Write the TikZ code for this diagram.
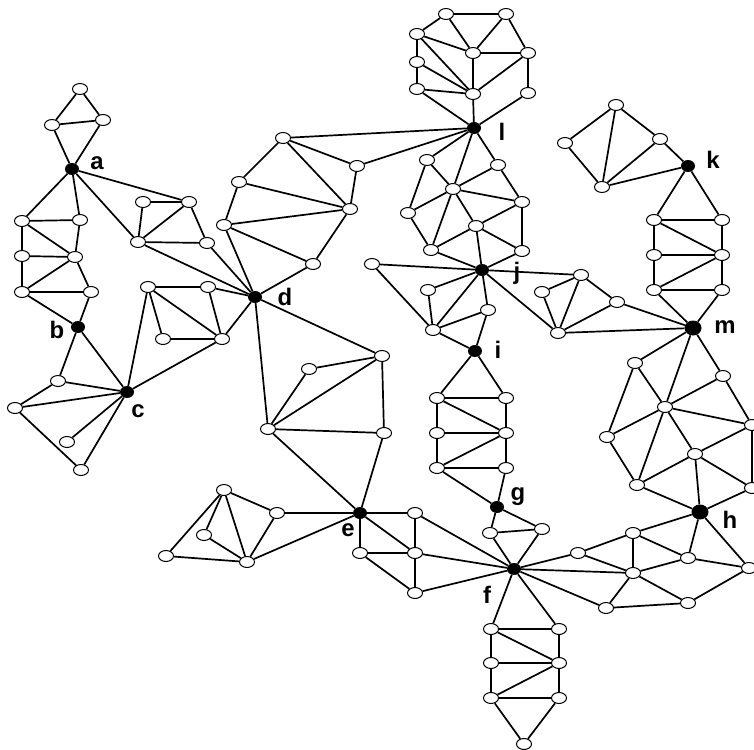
\documentclass[tikz,border=0pt]{standalone}
\usepackage{fontspec}
\setmainfont{Liberation Sans}
\usetikzlibrary{shapes.geometric}
\begin{document}
\begin{tikzpicture}[x=1bp,y=-1bp,
  wn/.style={ellipse,draw,fill=white,line width=1bp,minimum width=15bp,minimum height=11bp,inner sep=0pt},
  bn/.style={ellipse,fill=black,minimum width=14bp,minimum height=12bp,inner sep=0pt},
  bigbn/.style={bn,minimum width=17bp,minimum height=15bp},
  lbl/.style={font=\fontsize{24}{24}\selectfont\bfseries,inner sep=0pt},
  edge/.style={line width=1.7bp}]
\useasboundingbox (0,0) rectangle (754,750);
% black nodes
\foreach \n/\x/\y in {a/72/169,b/78/327,c/127/392,d/255/297,e/360/513,f/514/569,g/497/507,i/475/351,j/482/270,k/688/166,l/474/128}
  \node[bn] (\n) at (\x,\y) {};
\node[bigbn] (m) at (693,328) {};
\node[bigbn] (h) at (700,512) {};
% white nodes
\foreach \n/\x/\y in {T1/80/89,T2/52/125,T3/103/120,
 L1/22/221,L2/80/220,L3/22/256,L4/75/257,L5/22/292,L6/91/292,
 A1/143/202,A2/189/202,A3/138/242,A4/207/243,
 B1/58/381,B2/15/408,B3/67/442,B4/81/470,
 P1/148/287,P2/208/287,P3/163/339,P4/222/339,
 dA/283/138,dB/357/166,dC/239/182,dD/350/209,dE/224/225,dF/313/264,
 D1/382/356,D2/309/369,D3/268/429,D4/384/433,
 H1/224/490,H2/277/513,H3/204/535,H4/166/556,H5/247/562,
 E1/415/513,E2/415/553,E3/360/553,E4/415/593,
 N1/446/14,N2/506/14,N3/417/34,N4/473/53,N5/528/53,N6/417/62,N7/417/89,N8/473/94,N9/528/93,
 Q1/427/160,Q2/498/165,Q3/453/189,Q4/522/202,Q5/408/213,Q6/476/226,Q7/431/250,Q8/522/251,
 R1/372/264,S1/428/290,S2/488/310,S3/433/330,
 U1/542/292,U2/581/275,U3/558/333,U4/617/302,
 V1/616/105,V2/565/143,V3/660/139,V4/602/187,
 W1/654/220,W2/722/220,W3/654/255,W4/722/255,W5/654/290,W6/722/290,
 X1/635/363,X2/723/376,X3/665/407,X4/607/437,X5/752/425,X6/695/454,X7/637/485,X8/752/488,
 I1/437/398,I2/506/398,I3/437/433,I4/506/433,I5/437/468,I6/506/468,
 G1/490/533,G2/542/529,
 Z2/578/553,Z3/633/533,Z4/688/558,Z5/749/568,Z6/633/573,Z7/606/608,Z8/688/603,
 F1/491/629,F2/559/629,F3/491/663,F4/559/663,F5/491/698,F6/559/698,F7/524/744}
  \node[wn] (\n) at (\x,\y) {};
% edges
\foreach \u/\v in {T1/T2,T1/T3,T2/T3,T2/a,T3/a,
 a/L1,a/L2,a/A2,a/A3,
 L1/L2,L1/L3,L1/L4,L2/L4,L3/L4,L3/L5,L4/L5,L4/L6,L5/L6,L5/b,L6/b,
 A1/A2,A1/A3,A2/A3,A2/A4,A3/A4,A3/d,A4/d,
 b/B1,b/c,B1/c,B1/B2,B2/c,B3/c,B2/B4,c/B4,
 c/P1,c/P4,P1/P2,P1/P3,P1/P4,P3/P4,P2/P4,P2/d,P4/d,
 dA/l,dB/l,dA/dB,dA/dC,dA/dD,dB/dD,dC/dD,dC/dE,dE/dD,dD/dF,dE/dF,dE/d,dF/d,
 d/D1,d/D3,D2/D1,D2/D3,D1/D3,D3/D4,D1/D4,D3/e,D4/e,
 H1/H2,H1/H3,H1/H4,H1/H5,H3/H5,H4/H5,H2/H5,H2/e,H5/e,
 e/E1,e/E2,e/E3,E1/E2,E3/E2,E3/E4,E2/E4,E1/f,E2/f,E4/f,
 N1/N2,N1/N3,N1/N4,N2/N4,N2/N5,N3/N6,N3/N4,N3/N8,N4/N5,N4/N8,N5/N8,N5/N9,N6/N7,N6/N8,N7/N8,N7/l,N8/l,N9/l,
 l/Q1,l/Q2,l/Q3,Q1/Q3,Q1/Q5,Q2/Q3,Q2/Q4,Q3/Q4,Q3/Q5,Q3/Q6,Q3/Q7,Q4/Q6,Q4/Q8,Q5/Q7,Q6/Q7,Q6/j,Q6/Q8,Q7/j,Q8/j,
 R1/j,R1/S3,S1/j,S1/S3,S2/S3,j/S3,j/S2,S2/i,S3/i,
 j/U2,j/U3,U1/U2,U1/U3,U2/U3,U2/U4,U3/U4,U3/m,U4/m,
 V1/V2,V1/V3,V1/V4,V2/V4,V3/V4,V3/k,V4/k,
 k/W1,k/W2,W1/W2,W1/W3,W1/W4,W2/W4,W3/W4,W3/W5,W4/W5,W4/W6,W5/W6,W5/m,W6/m,
 m/X1,m/X2,m/X3,X1/X3,X1/X4,X2/X3,X2/X5,X3/X4,X3/X5,X3/X6,X3/X7,X4/X7,X5/X6,X5/X8,X6/X7,X6/h,X6/X8,X7/h,X8/h,
 i/I1,i/I2,I1/I2,I1/I3,I1/I4,I2/I4,I3/I4,I3/I5,I4/I5,I4/I6,I5/I6,I5/g,I6/g,
 g/G1,g/G2,G1/G2,G1/f,G2/f,
 h/Z3,h/Z4,h/Z5,Z3/Z2,Z3/Z6,Z3/Z4,Z2/f,Z2/Z6,f/Z6,f/Z7,Z6/Z4,Z6/Z7,Z6/Z8,Z7/Z8,Z8/Z5,Z4/Z5,
 f/F1,f/F2,F1/F2,F1/F3,F1/F4,F2/F4,F3/F4,F3/F5,F4/F5,F4/F6,F5/F6,F5/F7,F6/F7}
  \draw[edge] (\u) -- (\v);
% labels
\foreach \n/\t/\x/\y in {la/a/97/163,lb/b/57/330,lc/c/138/411,ld/d/285/297,le/e/348/530,lf/f/487/595,lg/g/518/497,lh/h/730/520,li/i/498/350,lj/j/517/273,lk/k/713/160,ll/l/502/132,lm/m/725/327}
  \node[lbl] (\n) at (\x,\y) {\t};
\end{tikzpicture}
\end{document}
